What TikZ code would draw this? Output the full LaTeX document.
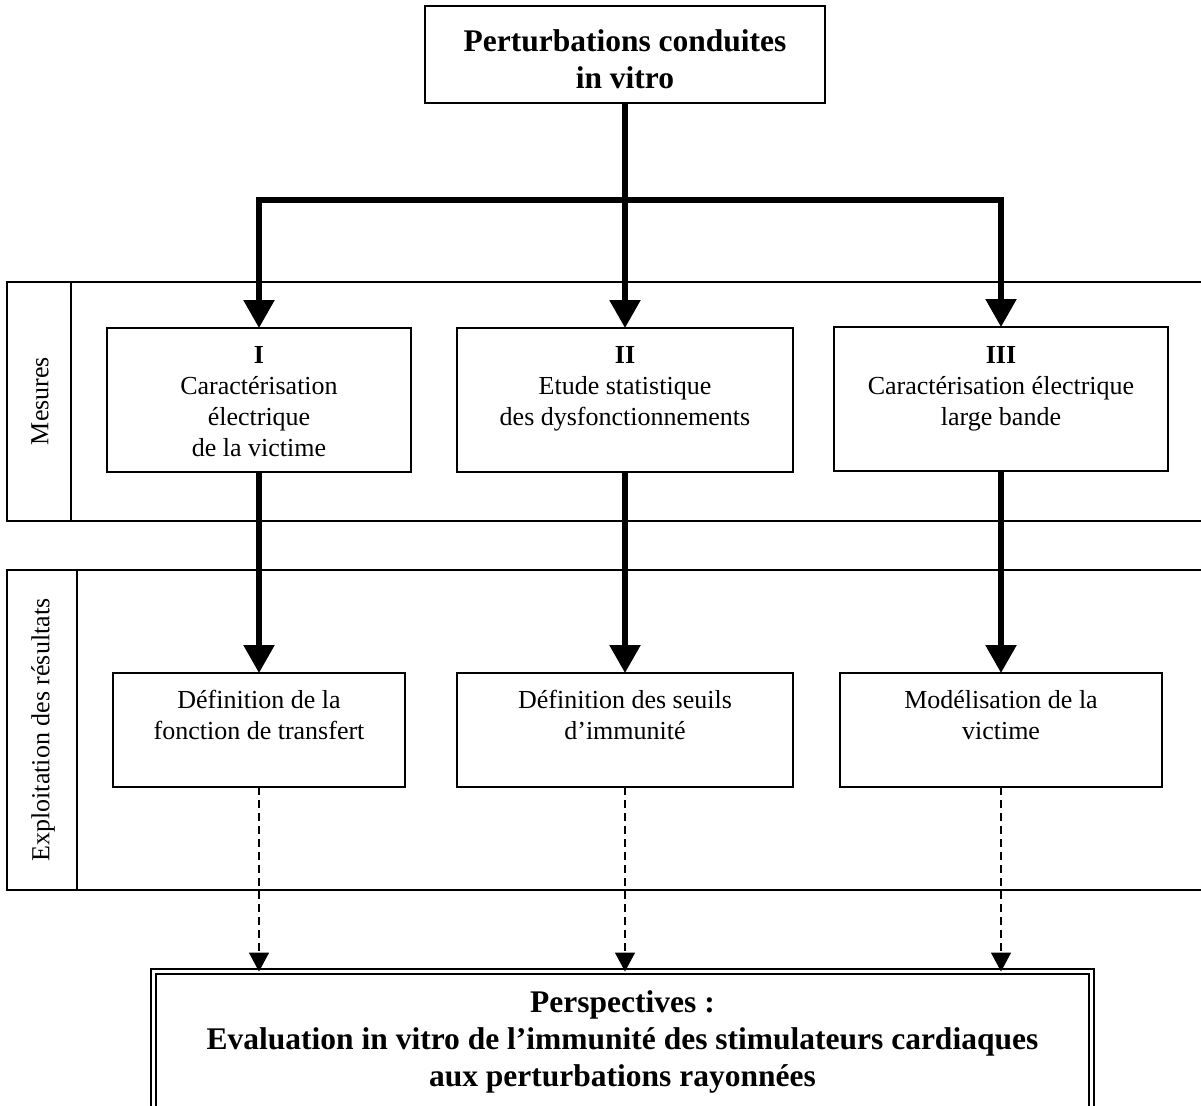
\documentclass[tikz,border=0pt]{standalone}
\usepackage{fontspec}
\setmainfont{Liberation Serif}
\usetikzlibrary{arrows.meta}
\newcommand\bxt[4]{\parbox[c][#2][t]{#1}{\centering\rule{0pt}{#3}#4\par}}
\begin{document}
\begin{tikzpicture}[x=1pt,y=-1pt,
  reg/.style={font=\fontsize{26}{31}\selectfont},
  bld/.style={font=\fontsize{31.5}{37}\selectfont\bfseries},
  box/.style={draw, line width=1.6pt, inner sep=0pt, outer sep=0pt, fill=white},
  thickarrow/.style={line width=5.5pt, line join=miter, -{Triangle[width=30pt,length=28pt]}},
  dasharrow/.style={line width=1.6pt, dash pattern=on 8pt off 5pt, -{Triangle[width=20pt,length=19pt]}},
  bandline/.style={line width=1.6pt}]
\useasboundingbox (0,0) rectangle (1201,1105);
% bands
\draw[bandline] (7,282) rectangle (1230,521);
\draw[bandline] (71,282) -- (71,521);
\draw[bandline] (7,570) rectangle (1230,890);
\draw[bandline] (77,570) -- (77,890);
\node[reg, rotate=90] (lm) at (40,401) {Mesures};
\node[reg, rotate=90] (le) at (43,730) {Exploitation des résultats};
% top
\node[box, bld, anchor=north] (top) at (625,6) {\bxt{400pt}{97pt}{46pt}{Perturbations conduites\\in vitro}};
% row 1
\node[box, reg, anchor=north] (m1) at (259,328) {\bxt{304pt}{144pt}{35pt}{\textbf{I}\\Caractérisation\\électrique\\de la victime}};
\node[box, reg, anchor=north] (m2) at (625,328) {\bxt{336pt}{144pt}{35pt}{\textbf{II}\\Etude statistique\\des dysfonctionnements}};
\node[box, reg, anchor=north] (m3) at (1001,327) {\bxt{334pt}{144pt}{36pt}{\textbf{III}\\Caractérisation électrique\\large bande}};
% row 2
\node[box, reg, anchor=north] (e1) at (259,673) {\bxt{292pt}{114pt}{35pt}{Définition de la\\fonction de transfert}};
\node[box, reg, anchor=north] (e2) at (625,673) {\bxt{336pt}{114pt}{35pt}{Définition des seuils\\d’immunité}};
\node[box, reg, anchor=north] (e3) at (1001,673) {\bxt{322pt}{114pt}{35pt}{Modélisation de la\\victime}};
% bottom
\node[box, bld, double, double distance=3.5pt, anchor=north] (P) at (622.5,971.5) {\bxt{938pt}{170pt}{40.5pt}{Perspectives :\\Evaluation in vitro de l’immunité des stimulateurs cardiaques\\aux perturbations rayonnées}};
% connectors
\coordinate (split) at (625,200);
\draw[thickarrow] (top.south) -- (m2.north);
\draw[thickarrow] (top.south) -- (split) -| (m1.north);
\draw[thickarrow] (top.south) -- (split) -| (m3.north);
\draw[thickarrow] (m1.south) -- (e1.north);
\draw[thickarrow] (m2.south) -- (e2.north);
\draw[thickarrow] (m3.south) -- (e3.north);
\draw[dasharrow] (e1.south) -- (e1.south |- P.north);
\draw[dasharrow] (e2.south) -- (e2.south |- P.north);
\draw[dasharrow] (e3.south) -- (e3.south |- P.north);
\end{tikzpicture}
\end{document}
